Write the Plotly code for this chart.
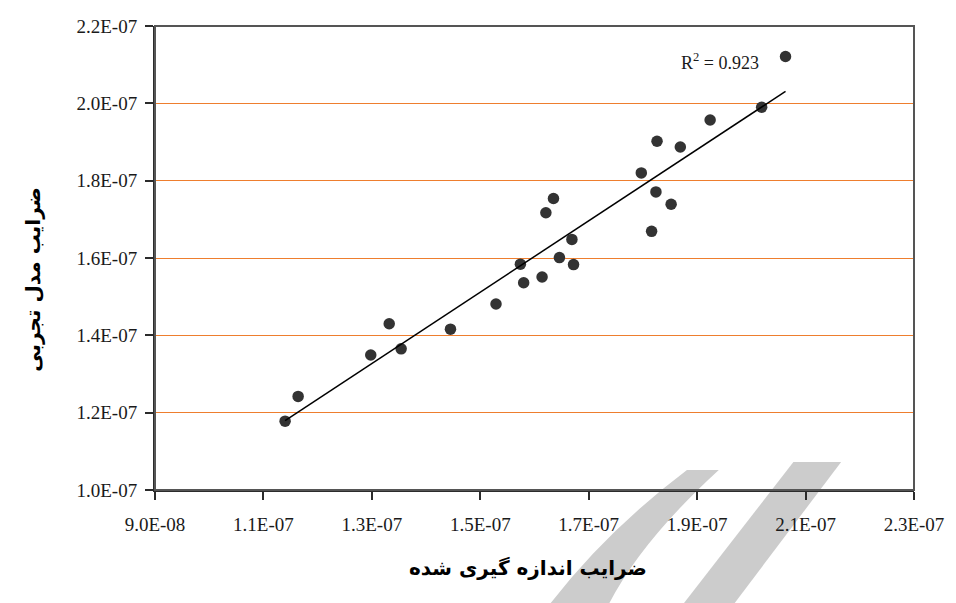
import numpy as np
import plotly.graph_objects as go

# Measured coefficients (x) versus empirical-model coefficients (y)
measured = np.array([11.40, 11.64, 12.98, 13.32, 13.54, 14.45, 15.29, 15.74, 15.80, 16.14,
                     16.21, 16.35, 16.46, 16.69, 16.72, 17.97, 18.16, 18.24, 18.26, 18.52,
                     18.69, 19.24, 20.19, 20.63]) * 1e-8
model = np.array([11.78, 12.42, 13.49, 14.30, 13.65, 14.16, 14.81, 15.84, 15.36, 15.51,
                  17.17, 17.54, 16.01, 16.48, 15.83, 18.20, 16.69, 17.71, 19.02, 17.39,
                  18.87, 19.57, 19.90, 21.21]) * 1e-8

x_tickvals = [9e-8, 1.1e-7, 1.3e-7, 1.5e-7, 1.7e-7, 1.9e-7, 2.1e-7, 2.3e-7]
x_ticktext = ["9.0E-08", "1.1E-07", "1.3E-07", "1.5E-07", "1.7E-07", "1.9E-07", "2.1E-07", "2.3E-07"]
y_tickvals = [1.0e-7, 1.2e-7, 1.4e-7, 1.6e-7, 1.8e-7, 2.0e-7, 2.2e-7]
y_ticktext = ["1.0E-07", "1.2E-07", "1.4E-07", "1.6E-07", "1.8E-07", "2.0E-07", "2.2E-07"]

r2_label = "R<sup>2</sup> = 0.923"
x_title = "ضرایب اندازه گیری شده"
y_title = "ضرایب مدل تجربی"

# Least-squares trend line across the measured range
slope, intercept = np.polyfit(measured, model, 1)
trend_x = np.array([measured.min(), measured.max()])
trend_y = slope * trend_x + intercept

tick_font = dict(family="Liberation Serif, serif", size=19, color="#1a1a1a")
title_font = dict(family="DejaVu Sans, sans-serif", size=20, color="#000000")

# pixel position -> paper fraction of the plotting area
L, R, T, B = 155, 918.3, 26, 490


def px(x):
    return (x - L) / (R - L)


def py(y):
    return (B - y) / (B - T)


fig = go.Figure()
fig.add_trace(go.Scatter(
    x=measured, y=model, mode="markers",
    marker=dict(size=11.5, color="#333333"),
    hoverinfo="x+y",
))
fig.add_trace(go.Scatter(
    x=trend_x, y=trend_y, mode="lines",
    line=dict(color="#000000", width=1.5),
    hoverinfo="skip",
))

s_path = (f"M {px(553):.4f} {py(603):.4f} Q {px(610):.4f} {py(530):.4f} {px(690):.4f} {py(470):.4f} "
          f"L {px(722):.4f} {py(470):.4f} Q {px(645):.4f} {py(540):.4f} {px(612):.4f} {py(603):.4f} Z")
i_path = (f"M {px(687):.4f} {py(603):.4f} L {px(738):.4f} {py(603):.4f} "
          f"L {px(845):.4f} {py(462):.4f} L {px(797):.4f} {py(462):.4f} Z")

fig.update_layout(
    width=956, height=603,
    margin=dict(l=L, r=956 - R, t=T, b=603 - B),
    paper_bgcolor="#ffffff",
    plot_bgcolor="rgba(0,0,0,0)",
    showlegend=False,
    xaxis=dict(
        range=[9e-8, 2.3e-7], tickmode="array", tickvals=x_tickvals, ticktext=x_ticktext,
        showgrid=False, zeroline=False, showline=True, linecolor="#2b2b2b", linewidth=2,
        ticks="outside", ticklen=8, tickwidth=1.5, tickcolor="#2b2b2b",
        tickfont=tick_font, ticklabelstandoff=8,
    ),
    yaxis=dict(
        range=[1e-7, 2.2e-7], tickmode="array", tickvals=y_tickvals, ticktext=y_ticktext,
        showgrid=True, gridcolor="#EE7E2E", gridwidth=1, zeroline=False,
        showline=True, linecolor="#2b2b2b", linewidth=2,
        ticks="outside", ticklen=8, tickwidth=1.5, tickcolor="#2b2b2b",
        tickfont=tick_font, ticklabelstandoff=4,
    ),
    shapes=[
        # plot frame (top and right edges)
        dict(type="rect", xref="paper", yref="paper", x0=0, x1=1, y0=0, y1=1,
             line=dict(color="#555555", width=2), layer="above"),
        # faint background logo strokes
        dict(type="path", xref="paper", yref="paper", layer="below", path=s_path,
             fillcolor="#CCCCCC", line=dict(width=0)),
        dict(type="path", xref="paper", yref="paper", layer="below", path=i_path,
             fillcolor="#CCCCCC", line=dict(width=0)),
    ],
    annotations=[
        dict(text=r2_label, xref="paper", yref="paper", x=px(723), y=py(61),
             xanchor="center", yanchor="middle", showarrow=False,
             font=dict(family="Liberation Serif, serif", size=18, color="#1a1a1a")),
        dict(text=f"<b>{x_title}</b>", xref="paper", yref="paper", x=px(530), y=py(568),
             xanchor="center", yanchor="middle", showarrow=False, font=title_font),
        dict(text=f"<b>{y_title}</b>", xref="paper", yref="paper", x=px(32), y=py(279),
             xanchor="center", yanchor="middle", showarrow=False,
             textangle=-90, font=title_font),
    ],
)

fig.write_html("out.html")
